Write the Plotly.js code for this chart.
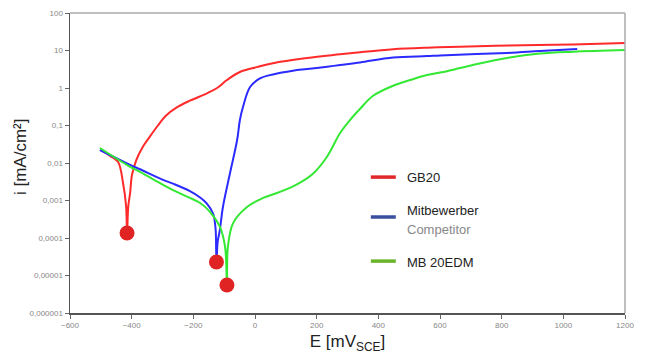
<!DOCTYPE html>
<html>
<head>
<meta charset="utf-8">
<script src="https://cdn.plot.ly/plotly-3.0.1.min.js"></script>
<style>html,body{margin:0;padding:0;background:#fff;}#chart{width:649px;height:362px;}</style>
</head>
<body>
<div id="chart"></div>
<script>
// Potential E [mV SCE] and current density i [mA/cm²]
const eGB20 = [-500, -470, -444, -428, -418, -415, -411, -405, -399, -385, -365, -340, -315, -290, -255, -211, -156, -123, -91, -49, 6, 58, 169, 276, 341, 448, 558, 665, 869, 1031, 1200];
const iGB20 = [0.0222, 0.0155, 0.0106, 0.00293, 0.0007, 0.000136, 0.0007, 0.0016, 0.0048, 0.012, 0.026, 0.052, 0.1, 0.18, 0.3, 0.46, 0.72, 1.0, 1.63, 2.67, 3.6, 4.6, 6.3, 7.9, 9.0, 10.8, 11.9, 12.6, 13.8, 14.5, 15.8];

const eComp = [-503, -405, -373, -298, -266, -211, -178, -156, -136, -128, -126, -125, -121, -114, -104, -81, -58, -49, -39, -16, 16, 58, 123, 169, 234, 276, 341, 448, 558, 600, 817, 924, 1045];
const iComp = [0.0222, 0.0089, 0.0068, 0.00355, 0.00282, 0.00178, 0.0012, 0.00083, 0.00045, 0.00018, 0.00005, 0.000023, 0.00008, 0.000163, 0.000671, 0.0054, 0.041, 0.14, 0.311, 1.06, 1.8, 2.3, 2.9, 3.2, 3.7, 4.1, 4.8, 6.5, 7.1, 7.4, 8.6, 9.7, 11.0];

const eMB = [-503, -405, -373, -298, -266, -211, -178, -146, -114, -97, -91, -88, -71, -26, 26, 81, 136, 188, 233, 276, 308, 341, 383, 448, 503, 558, 610, 665, 707, 817, 924, 1031, 1200];
const iMB = [0.0251, 0.0079, 0.0058, 0.00262, 0.0019, 0.00117, 0.00086, 0.0005, 0.0002, 0.0000575, 0.0000056, 0.0000575, 0.00025, 0.00067, 0.00117, 0.0017, 0.0027, 0.0052, 0.0145, 0.063, 0.14, 0.28, 0.62, 1.15, 1.63, 2.22, 2.67, 3.41, 4.1, 6.31, 8.3, 9.3, 10.3];

// corrosion potentials (red dots)
const eCorr = [-415, -125, -91];
const iCorr = [0.000136, 0.000023, 0.0000056];

const yTickVals = [100, 10, 1, 0.1, 0.01, 0.001, 0.0001, 0.00001, 0.000001];
const yTickText = ['100', '10', '1', '0,1', '0,01', '0,001', '0,0001', '0,00001', '0,000001'];
const xTickVals = [-600, -400, -200, 0, 200, 400, 600, 800, 1000, 1200];

const legendNames = ['GB20', 'Mitbewerber', 'MB 20EDM'];
const legendSub = 'Competitor';

const font = 'Liberation Sans, Arial, Helvetica, sans-serif';

const lineShape = {shape: 'spline', smoothing: 1.0, width: 2};

const traces = [
  {x: eGB20, y: iGB20, mode: 'lines', line: Object.assign({color: '#ff2b2b'}, lineShape), name: legendNames[0]},
  {x: eComp, y: iComp, mode: 'lines', line: Object.assign({color: '#2b2bff'}, lineShape), name: legendNames[1]},
  {x: eMB, y: iMB, mode: 'lines', line: Object.assign({color: '#33e833'}, lineShape), name: legendNames[2]},
  {x: eCorr, y: iCorr, mode: 'markers', marker: {color: '#e02424', size: 15}, name: 'Ecorr'}
];

const layout = {
  width: 649, height: 362,
  margin: {l: 70, r: 24, t: 13, b: 49},
  paper_bgcolor: '#fff', plot_bgcolor: '#fff',
  showlegend: false,
  font: {family: font},
  xaxis: {
    range: [-600, 1200], tickvals: xTickVals, ticks: 'outside', ticklen: 4, tickcolor: '#666',
    showgrid: false, zeroline: false, showline: true, linecolor: '#555', linewidth: 1.5,
    tickfont: {size: 8, color: '#888'},
    title: {text: 'E [mV<sub>SCE</sub>]', font: {size: 17, color: '#222'}, standoff: 6}
  },
  yaxis: {
    type: 'log', range: [-6, 2], tickvals: yTickVals, ticktext: yTickText, ticks: 'outside', ticklen: 4, tickcolor: '#666',
    showgrid: false, zeroline: false, showline: true, linecolor: '#555', linewidth: 1.5,
    tickfont: {size: 8, color: '#888'}
  },
  shapes: [
    {type: 'line', xref: 'paper', yref: 'paper', x0: 0, x1: 1, y0: 1, y1: 1, line: {color: '#aaa', width: 1.5}},
    {type: 'line', xref: 'paper', yref: 'paper', x0: 1, x1: 1, y0: 0, y1: 1, line: {color: '#aaa', width: 1.5}},
    {type: 'line', xref: 'paper', yref: 'paper', x0: 0.542, x1: 0.587, y0: 0.453, y1: 0.453, line: {color: '#e02828', width: 3.5}},
    {type: 'line', xref: 'paper', yref: 'paper', x0: 0.542, x1: 0.587, y0: 0.32, y1: 0.32, line: {color: '#3a4fa0', width: 3.5}},
    {type: 'line', xref: 'paper', yref: 'paper', x0: 0.542, x1: 0.587, y0: 0.173, y1: 0.173, line: {color: '#6ab42a', width: 3.5}}
  ],
  annotations: [
    {xref: 'paper', yref: 'paper', x: -0.09, y: 0.52, xanchor: 'center', yanchor: 'middle', textangle: -90, showarrow: false, text: 'i [mA/cm²]', font: {size: 17, color: '#222'}},
    {xref: 'paper', yref: 'paper', x: 0.603, y: 0.453, xanchor: 'left', yanchor: 'middle', showarrow: false, text: legendNames[0], font: {size: 13, color: '#222'}},
    {xref: 'paper', yref: 'paper', x: 0.603, y: 0.343, xanchor: 'left', yanchor: 'middle', showarrow: false, text: legendNames[1], font: {size: 13, color: '#222'}},
    {xref: 'paper', yref: 'paper', x: 0.603, y: 0.277, xanchor: 'left', yanchor: 'middle', showarrow: false, text: legendSub, font: {size: 13, color: '#888'}},
    {xref: 'paper', yref: 'paper', x: 0.603, y: 0.17, xanchor: 'left', yanchor: 'middle', showarrow: false, text: legendNames[2], font: {size: 13, color: '#222'}}
  ]
};

Plotly.newPlot('chart', traces, layout, {displayModeBar: false, staticPlot: true});
</script>
</body>
</html>
